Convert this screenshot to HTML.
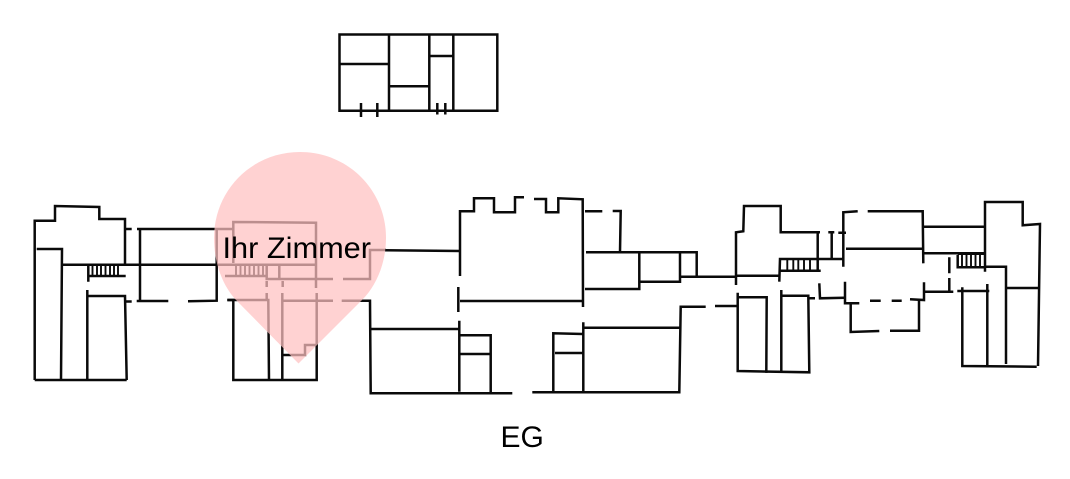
<!DOCTYPE html>
<html><head><meta charset="utf-8"><style>
html,body{margin:0;padding:0;background:#fff;width:1070px;height:479px;overflow:hidden}
svg{display:block}
text{font-family:"Liberation Sans",sans-serif;fill:#000}
.l path{fill:none;stroke:#0a0a0a;stroke-width:2.5;stroke-linejoin:miter}
.s path{fill:none;stroke:#0a0a0a;stroke-width:1.9}
</style></head><body>
<svg width="1070" height="479" viewBox="0 0 1070 479" xmlns="http://www.w3.org/2000/svg">
<g class="l">
<!-- upper floor -->
<path d="M339.5 34.5H497.3V110.7H339.5Z"/>
<path d="M389 34.5V110.7M429.3 34.5V110.7M453.3 34.5V110.7M339.5 64H389M389 86.3H429.3M429.3 56H453.3"/>
<path d="M361 103V117M377.3 103V117M437.3 103V114.5M445.3 103V114.5"/>
<!-- left wing -->
<path d="M34.7 380V220.7H55V206L99.3 207V219H125V264"/>
<path d="M36.7 249H62L61 380"/>
<path d="M62.7 264.7H233"/>
<path d="M125 229H131.7M125 301.5H131.7"/>
<path d="M137 229H233M140 229V300.7M136.7 301H168.3M188 301.3L216.7 300.7V229"/>
<path d="M88.3 265V281.7M88.3 276H125.7"/>
<path d="M87.3 290V380M87.3 296H125L126.7 380M34.7 380H126.7"/>
<!-- second wing -->
<path d="M227.3 300H233.3V380H316.7V293M233.3 222V263L233.3 222L316 222.7V288"/>
<path d="M225 276H266.7M233 264.7H316M266.7 265V279H333M279.3 265V279M343 279H370V250H386"/>
<path d="M266.7 281V287M282.7 281V287M266.7 293V300M227.3 300H268.3L269 380M282.3 293V380M282.3 300.7H333M341.7 300.7H370L370.7 393.3H512.3"/>
<path d="M283 355H305V345H316.7"/>
<!-- centre -->
<path d="M370 329H459.3M385 250.3L460 251M460 276V211.3H474V198.3H494V212.3H515V197.3H524"/>
<path d="M534 199H546V212.3H558.3V198.3L582.7 199.3L583 307"/>
<path d="M458.3 287V312M460 301H582.7"/>
<path d="M585 211.3H602.3M612.7 211H620.7L620 252.3"/>
<path d="M586 252.3H696.7V276.7M639.3 252.3V289H585M680 252.3V281.7H639.3M680 276.7H736"/>
<path d="M459.3 320.7V391.7M459.3 335.3H490.7V392.7M459.3 354H491.7"/>
<path d="M532.3 392.3H679.3L680.7 306.7H705.7M715 306H737"/>
<path d="M553.3 391.7V333.3L582.7 334M555 353H582.7M583.3 322.3V391.7M583.3 327.7H680"/>
<!-- right wings -->
<path d="M736 285V232.3L743.3 231.3L744 206H780.7V232.3H820"/>
<path d="M736 275.7H779.3M779.3 281.7L780 259H843.3M817.7 232V271M780 270.7H820.7"/>
<path d="M828.3 232.3H834.3M831.7 232V259M838.3 232.7H846M843.3 266.7V212.3L857.7 211.3"/>
<path d="M867.7 211.3H922.7L923.3 263.3M846 248.7H922.7M923.3 226.7H986M924 253.3H985"/>
<path d="M985 271.7V202H1022.7V225.3L1040 224L1038 366"/>
<path d="M949.3 257.3V273.3M949.3 278V291.7M925 291.7H953.3"/>
<path d="M924 282.3V300L910 299.3M891.7 300.7H901.7M870 300.7H880.7M845 281.7V303.3H859.3"/>
<path d="M819.3 283.3L820 298.3L845 297.7"/>
<path d="M850.7 303.3V332L879.3 331M890 330.7H919V300"/>
<path d="M957.7 255V267.3H986M986 266.7H1006V364"/>
<path d="M957.3 291H989.3M962.3 287.3V366L1036.7 366.7M987.3 284V366M1006 288H1038"/>
<path d="M737.7 292.7V371L809.3 372.3L808.3 295.7H782.3M737.7 297.3H766.7L766.3 373M781.3 290V371.7M808 298.3H815"/>
</g>
<g class="s">
<path d="M92.5 265V276M97 265V276M101 265V276M105.5 265V276M110 265V276M114 265V276M118 265V276"/>
<path d="M236 265V276M240.5 265V276M245 265V276M249.5 265V276M254 265V276M258.5 265V276M263 265V276"/>
<path d="M787.3 259V270M793.3 259V270M798.3 259V270M804 259V270M810 259V270"/>
<path d="M962 255V267M966.5 255V267M971 255V267M975.5 255V267M980 255V267"/>
<path d="M957.7 254H985"/>
</g>
<!-- marker -->
<path d="M298.5 363.5L236 300C222 285 214 262 214 238C214 190 252 152 300 152C348 152 386 190 386 238C386 262 377 285 362 300Z" fill="rgb(255,193,193)" fill-opacity=".725"/>
<text x="222.5" y="258" font-size="30" textLength="148.5" lengthAdjust="spacingAndGlyphs">Ihr Zimmer</text>
<text x="500.5" y="447" font-size="30">EG</text>
</svg>
</body></html>
